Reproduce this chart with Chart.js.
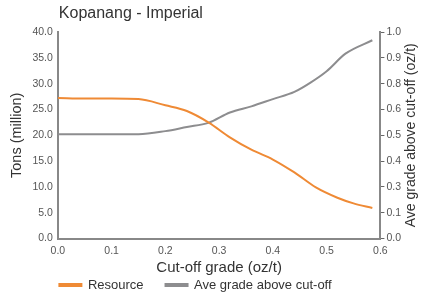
<!DOCTYPE html>
<html>
<head>
<meta charset="utf-8">
<script src="https://cdn.jsdelivr.net/npm/chart.js@4"></script>
<style>
  body { margin: 0; background: #fff; }
  #wrap { width: 431px; height: 296px; }
</style>
</head>
<body>
<div id="wrap"><canvas id="chart"></canvas></div>
<script>
const chartTitle = 'Kopanang - Imperial';
const resourceGrades = [0, 0.05, 0.1, 0.15, 0.2, 0.24, 0.28, 0.32, 0.36, 0.4, 0.44, 0.48, 0.52, 0.55, 0.585];
const resourceTons = [27.2, 27.1, 27.1, 27.0, 25.8, 24.7, 22.5, 19.6, 17.2, 15.3, 12.8, 9.9, 7.9, 6.8, 5.9];
const aveGrades = [0, 0.05, 0.1, 0.15, 0.2, 0.24, 0.28, 0.32, 0.36, 0.4, 0.44, 0.47, 0.5, 0.535, 0.585];
const aveGradeAbove = [0.505, 0.505, 0.505, 0.505, 0.52, 0.54, 0.56, 0.61, 0.64, 0.675, 0.71, 0.755, 0.81, 0.895, 0.96];

const font = "'Liberation Sans', Arial, sans-serif";

// title sits over the plot's left edge, right axis title reads bottom-to-top
const extraText = {
    id: 'extraText',
    afterLayout(chart) {
        // legend in the original starts under the left axis, close to the x title
        const lg = chart.legend;
        lg.left -= 8;
        lg.right -= 8;
        lg.top -= 18.5;
        lg.bottom -= 18.5;
    },
    afterDraw(chart) {
        const ctx = chart.ctx;
        const area = chart.chartArea;
        ctx.save();
        ctx.fillStyle = '#333';
        ctx.font = '16px ' + font;
        ctx.textBaseline = 'middle';
        ctx.textAlign = 'left';
        ctx.fillText(chartTitle, area.left + 1, 14);
        ctx.translate(411, (area.top + area.bottom) / 2);
        ctx.rotate(-Math.PI / 2);
        ctx.textAlign = 'center';
        ctx.font = '14px ' + font;
        ctx.fillText('Ave grade above cut-off (oz/t)', 0, 0);
        ctx.restore();
    }
};

const ctx = document.getElementById('chart').getContext('2d');
new Chart(ctx, {
    type: 'line',
    data: {
        datasets: [{
            label: 'Resource',
            data: resourceGrades.map((g, i) => ({ x: g, y: resourceTons[i] })),
            borderColor: '#ef8a35',
            backgroundColor: '#ef8a35',
            borderWidth: 2,
            pointRadius: 0,
            cubicInterpolationMode: 'monotone',
            yAxisID: 'y'
        }, {
            label: 'Ave grade above cut-off',
            data: aveGrades.map((g, i) => ({ x: g, y: aveGradeAbove[i] })),
            borderColor: '#8d8d8f',
            backgroundColor: '#8d8d8f',
            borderWidth: 2,
            pointRadius: 0,
            cubicInterpolationMode: 'monotone',
            yAxisID: 'y2'
        }]
    },
    options: {
        responsive: true,
        maintainAspectRatio: false,
        animation: false,
        layout: { padding: { top: 32, left: 4, right: 28, bottom: -24 } },
        plugins: {
            legend: {
                position: 'bottom',
                labels: {
                    boxWidth: 22,
                    boxHeight: 2,
                    padding: 22,
                    color: '#333',
                    font: { family: font, size: 13 }
                }
            },
            tooltip: { enabled: false }
        },
        scales: {
            x: {
                type: 'linear',
                min: 0,
                max: 0.6,
                grid: { display: false, drawTicks: false },
                border: { color: '#888', width: 2 },
                ticks: {
                    stepSize: 0.1,
                    padding: 7,
                    color: '#555',
                    font: { family: font, size: 10.5, lineHeight: 1 },
                    callback: v => v.toFixed(1)
                },
                title: {
                    display: true,
                    text: 'Cut-off grade (oz/t)',
                    color: '#333',
                    padding: { top: -3, bottom: 0 },
                    font: { family: font, size: 15, lineHeight: 1 }
                }
            },
            y: {
                position: 'left',
                min: 0,
                max: 40,
                grid: { display: false, drawTicks: false },
                border: { color: '#888', width: 2 },
                ticks: {
                    stepSize: 5,
                    padding: 5,
                    color: '#555',
                    font: { family: font, size: 10.5 },
                    callback: v => v.toFixed(1)
                },
                title: {
                    display: true,
                    text: 'Tons (million)',
                    color: '#333',
                    padding: { top: 4, bottom: 2 },
                    font: { family: font, size: 14.5 }
                }
            },
            y2: {
                position: 'right',
                min: 0,
                max: 1,
                grid: { drawOnChartArea: false, drawTicks: true, tickLength: 4, tickColor: '#666' },
                border: { color: '#888', width: 2 },
                ticks: {
                    stepSize: 0.125,
                    padding: 2,
                    color: '#555',
                    font: { family: font, size: 10.5 },
                    callback: v => v.toFixed(1)
                }
            }
        }
    },
    plugins: [extraText]
});
</script>
</body>
</html>
